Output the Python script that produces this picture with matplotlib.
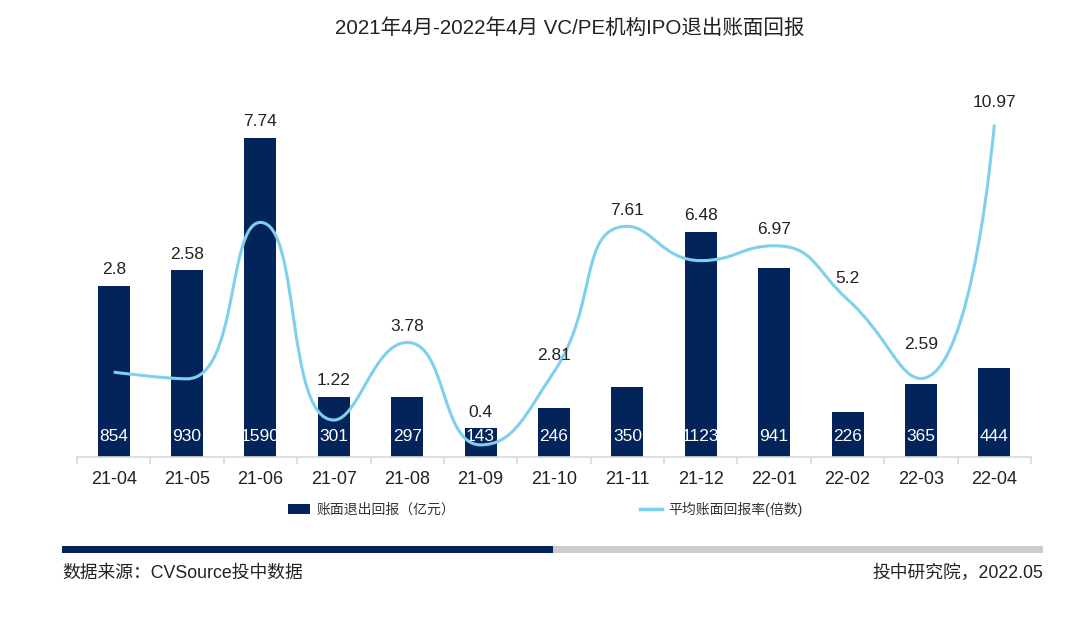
import numpy as np
import matplotlib
matplotlib.use('Agg')
import matplotlib.pyplot as plt
from matplotlib.path import Path
from matplotlib.patches import PathPatch, Rectangle, Patch
from matplotlib.lines import Line2D

plt.rcParams['font.family'] = ['Liberation Sans', 'Noto Sans CJK SC', 'DejaVu Sans']

# ---------------- data ----------------
months = ['21-04', '21-05', '21-06', '21-07', '21-08', '21-09', '21-10',
          '21-11', '21-12', '22-01', '22-02', '22-03', '22-04']
book_return = [854, 930, 1590, 301, 297, 143, 246, 350, 1123, 941, 226, 365, 444]
avg_multiple = [2.8, 2.58, 7.74, 1.22, 3.78, 0.4, 2.81, 7.61, 6.48, 6.97, 5.2, 2.59, 10.97]
bar_label = '账面退出回报（亿元）'
line_label = '平均账面回报率(倍数)'
title = '2021年4月-2022年4月 VC/PE机构IPO退出账面回报'
source_left = '数据来源：CVSource投中数据'
source_right = '投中研究院，2022.05'

# ---------------- style ----------------
NAVY = '#02245a'
LINE = '#7fd0ec'
TXT = '#222222'
W, H = 1080, 633


def fx(px):
    return px / W


def fy(py):
    return 1 - py / H


fig = plt.figure(figsize=(W / 100, H / 100), dpi=100)
ax = fig.add_axes([fx(77), fy(457), fx(1031) - fx(77), fy(80) - fy(457)])
ax2 = ax.twinx()
n = len(months)
x = np.arange(n)
ax.set_xlim(-0.5, n - 0.5)
ax.set_ylim(0, 1879)
ax2.set_ylim(0, 12.44)

bars = ax.bar(x, book_return, width=0.436, color=NAVY, zorder=2)

for a in (ax, ax2):
    for s in ('top', 'right', 'left'):
        a.spines[s].set_visible(False)
    a.set_yticks([])
ax2.spines['bottom'].set_visible(False)
ax.spines['bottom'].set_color('#d9d9d9')
ax.spines['bottom'].set_linewidth(1.2)
ax.set_xticks(x)
ax.set_xticklabels(months, fontsize=13, color=TXT)
ax.tick_params(axis='x', which='major', length=0, pad=10)
ax.set_xticks(np.arange(-0.5, n, 1.0), minor=True)
ax.tick_params(axis='x', which='minor', length=5, color='#d9d9d9', width=1.2)

# value labels inside bars (white, clipped to the bar)
for i, (b, v) in enumerate(zip(bars, book_return)):
    t = ax.annotate(str(v), xy=(i, 0), xytext=(0, 15), textcoords='offset points',
                    ha='center', va='center', fontsize=12.5, color='white', zorder=3)
    t.set_clip_path(b)

# smooth line (ECharts style bezier in display space)
pts = ax2.transData.transform(np.column_stack([x, avg_multiple]))
smooth = 0.5
verts = [pts[0]]
codes = [Path.MOVETO]
cp0 = pts[0].copy()
for i in range(1, n):
    px_, py_ = pts[i - 1]
    X, Y = pts[i]
    if i == n - 1:
        cp1 = np.array([X, Y])
        ncp = None
    else:
        nx_, ny_ = pts[i + 1]
        vx, vy = nx_ - px_, ny_ - py_
        lp = np.hypot(X - px_, Y - py_)
        ln = np.hypot(nx_ - X, ny_ - Y)
        r = ln / (ln + lp)
        ncx = X + vx * smooth * r
        ncy = Y + vy * smooth * r
        ncx = max(min(ncx, max(nx_, X)), min(nx_, X))
        ncy = max(min(ncy, max(ny_, Y)), min(ny_, Y))
        vx, vy = ncx - X, ncy - Y
        c1x = X - vx * lp / ln
        c1y = Y - vy * lp / ln
        c1x = max(min(c1x, max(px_, X)), min(px_, X))
        c1y = max(min(c1y, max(py_, Y)), min(py_, Y))
        vx, vy = X - c1x, Y - c1y
        ncp = np.array([X + vx * ln / lp, Y + vy * ln / lp])
        cp1 = np.array([c1x, c1y])
    verts += [cp0, cp1, pts[i]]
    codes += [Path.CURVE4] * 3
    cp0 = ncp
verts_d = ax2.transData.inverted().transform(np.array(verts))
ax2.add_patch(PathPatch(Path(verts_d, codes), fill=False, ec=LINE, lw=2.2,
                        transform=ax2.transData, zorder=4, clip_on=False))

# line value labels above the higher of bar / line point
nudge_px = {'22-02': 5, '22-03': 18, '22-04': 6}
for i, (m, bv, lv) in enumerate(zip(months, book_return, avg_multiple)):
    yb = ax.transData.transform((i, bv))[1]
    yl = ax2.transData.transform((i, lv))[1]
    top = max(yb, yl)
    off_px = 16 + nudge_px.get(m, 0)
    disp = ax2.transData.inverted().transform((ax2.transData.transform((i, 0))[0], top))
    ax2.annotate(f'{lv:g}', xy=(i, disp[1]), xytext=(0, off_px * 0.72),
                 textcoords='offset points', ha='center', va='center',
                 fontsize=12.5, color=TXT, zorder=5, annotation_clip=False)

# title
fig.text(fx(570), fy(28), title, ha='center', va='center', fontsize=14.8, color=TXT)

# legend
handles = [Patch(facecolor=NAVY, edgecolor='none'), Line2D([], [], color=LINE, lw=2.5)]
fig.legend(handles, [bar_label, line_label], loc='center left',
           bbox_to_anchor=(fx(288), fy(509)), ncol=2, frameon=False, fontsize=10,
           handlelength=1.6, handletextpad=0.45, columnspacing=13.3,
           borderpad=0, borderaxespad=0, labelcolor='#333333')

# separator bar
fig.add_artist(Rectangle((fx(62), fy(553)), fx(553) - fx(62), 7 / H,
                         transform=fig.transFigure, color=NAVY, lw=0))
fig.add_artist(Rectangle((fx(553), fy(553)), fx(1043) - fx(553), 7 / H,
                         transform=fig.transFigure, color='#cccccc', lw=0))

fig.text(fx(62), fy(573), source_left, ha='left', va='center', fontsize=12.8, color=TXT)
fig.text(fx(1043), fy(573), source_right, ha='right', va='center', fontsize=12.8, color=TXT)

fig.savefig('out.png', dpi=100)
